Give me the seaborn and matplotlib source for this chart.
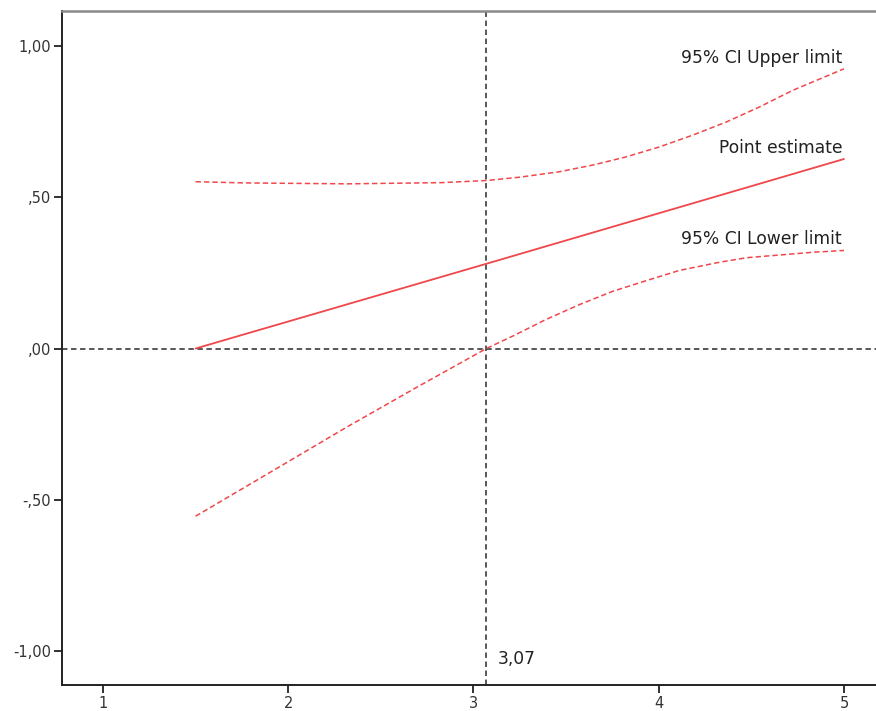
import matplotlib
matplotlib.use("Agg")
import matplotlib.pyplot as plt
import seaborn as sns
import pandas as pd

# Conditional effect of the focal predictor across moderator values
point_x = [1.5, 3.07, 5.0]
point_estimate = [0.0, 0.280, 0.626]

# 95% confidence band
upper_x = [1.5, 1.77, 2.32, 2.83, 3.07, 3.25, 3.464, 3.644, 3.824, 4.004,
           4.184, 4.364, 4.544, 4.724, 5.0]
upper_limit = [0.551, 0.547, 0.544, 0.548, 0.555, 0.566, 0.584, 0.606, 0.633,
               0.666, 0.705, 0.748, 0.798, 0.853, 0.924]
lower_x = [1.5, 1.9, 2.315, 2.7, 3.07, 3.212, 3.392, 3.572, 3.752, 3.932, 4.112,
           4.328, 4.475, 4.834, 5.0]
lower_limit = [-0.554, -0.410, -0.260, -0.126, 0.0, 0.041, 0.096, 0.145, 0.189,
               0.224, 0.258, 0.285, 0.300, 0.318, 0.324]

jn_point = 3.07
jn_label = "3,07"

x_ticks = [1, 2, 3, 4, 5]
x_tick_labels = ["1", "2", "3", "4", "5"]
y_ticks = [1.0, 0.5, 0.0, -0.5, -1.0]
y_tick_labels = ["1,00", ",50", ",00", "-,50", "-1,00"]

series_labels = ["95% CI Upper limit", "Point estimate", "95% CI Lower limit"]
label_y = [0.960, 0.663, 0.363]

point_df = pd.DataFrame({"moderator": point_x, "effect": point_estimate})
upper_df = pd.DataFrame({"moderator": upper_x, "effect": upper_limit})
lower_df = pd.DataFrame({"moderator": lower_x, "effect": lower_limit})

sns.set_style("ticks")
plt.rcParams["font.family"] = ["DejaVu Sans"]

fig = plt.figure(figsize=(8.76, 7.11), dpi=100)
ax = fig.add_axes([62 / 876, 1 - 684.5 / 711, 1 - 62 / 876, (684.5 - 11) / 711])

red = "#f0474a"
ref_color = "#4a4a4a"

# Reference lines at zero effect and at the Johnson-Neyman point
ax.axhline(0, color=ref_color, lw=1.3, ls=(0, (3, 2)), zorder=1)
ax.axvline(jn_point, color=ref_color, lw=1.3, ls=(0, (3, 2)), zorder=1)

sns.lineplot(data=upper_df, x="moderator", y="effect", ax=ax, color=red, lw=1.1,
             linestyle=(0, (3.5, 2)), zorder=3)
sns.lineplot(data=point_df, x="moderator", y="effect", ax=ax, color=red, lw=1.3,
             zorder=3)
sns.lineplot(data=lower_df, x="moderator", y="effect", ax=ax, color=red, lw=1.1,
             linestyle=(0, (3.5, 2)), zorder=3)

for text, yv in zip(series_labels, label_y):
    ax.text(4.99, yv, text, ha="right", va="center", fontsize=12.3, color="#222222")

ax.text(jn_point + 0.06, -1.026, jn_label, ha="left", va="center",
        fontsize=12.3, color="#222222")

ax.set_xlim(0.779, 5.173)
ax.set_ylim(-1.11, 1.115)
ax.set_xticks(x_ticks)
ax.set_xticklabels(x_tick_labels)
ax.set_yticks(y_ticks)
ax.set_yticklabels(y_tick_labels)
ax.tick_params(axis="both", direction="out", length=6, width=1.3, color="#222222",
               labelsize=10.5, labelcolor="#333333", pad=2)
ax.set_xlabel("")
ax.set_ylabel("")

for side in ["left", "bottom"]:
    ax.spines[side].set_color("#222222")
    ax.spines[side].set_linewidth(1.4)
ax.spines["top"].set_color("#8a8a8a")
ax.spines["top"].set_linewidth(1.8)
ax.spines["right"].set_visible(False)

fig.savefig("out.png", dpi=100)
